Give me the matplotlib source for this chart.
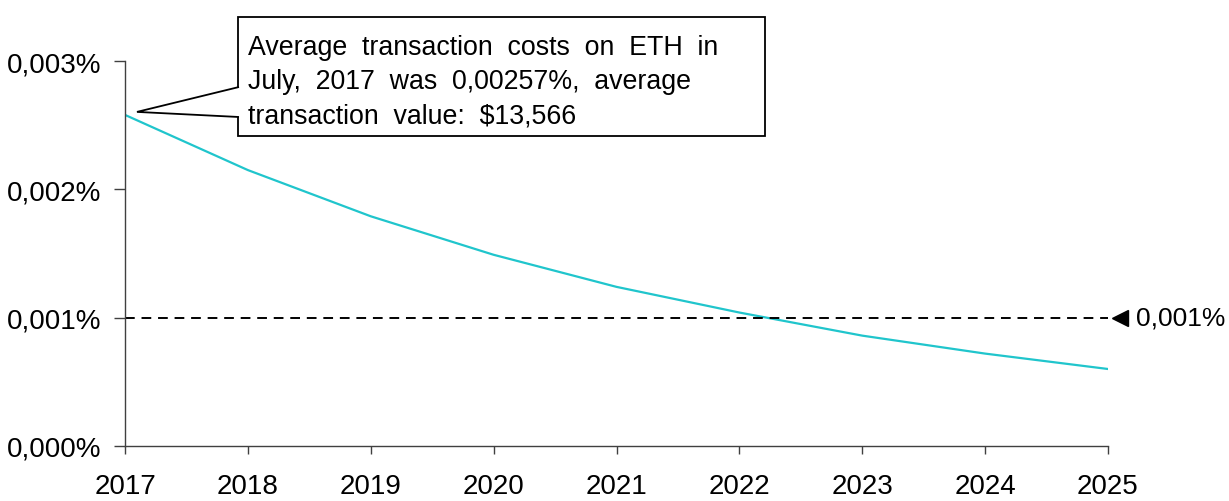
import matplotlib.pyplot as plt
from matplotlib.patches import Rectangle, Polygon

plt.rcParams['font.family'] = ['Liberation Sans', 'DejaVu Sans']

years = [2017, 2018, 2019, 2020, 2021, 2022, 2023, 2024, 2025]
cost_pct = [0.00258, 0.00215, 0.00179, 0.00149, 0.00124, 0.00104, 0.00086, 0.00072, 0.00060]
threshold = 0.001
yticks = [0.0, 0.001, 0.002, 0.003]
ytick_labels = ['0,000%', '0,001%', '0,002%', '0,003%']
note = ('Average  transaction  costs  on  ETH  in\n'
        'July,  2017  was  0,00257%,  average\n'
        'transaction  value:  $13,566')

W, H = 1229, 502
fig = plt.figure(figsize=(W / 100, H / 100), dpi=100)
ax = fig.add_axes([125 / W, 1 - 447 / H, (1108 - 125) / W, (447 - 62) / H])

ax.plot(years, cost_pct, color='#20C5CC', lw=1.6)
ax.axhline(threshold, color='black', lw=1.4, ls=(0, (5, 3.5)))
ax.plot([2025.1], [threshold], marker='<', color='black', ms=11, clip_on=False)
ax.annotate('0,001%', xy=(1, threshold), xycoords=('axes fraction', 'data'),
            xytext=(20, 0), textcoords='offset points', va='center', ha='left',
            fontsize=19)

ax.set_xlim(2017, 2025)
ax.set_ylim(0, 0.003)
ax.set_xticks(years)
ax.set_xticklabels([str(y) for y in years])
ax.set_yticks(yticks)
ax.set_yticklabels(ytick_labels)
for s in ['top', 'right']:
    ax.spines[s].set_visible(False)
for s in ['left', 'bottom']:
    ax.spines[s].set_color('#404040')
    ax.spines[s].set_linewidth(1.0)
ax.tick_params(axis='x', length=6, width=1, color='#404040', pad=13.5, labelsize=20)
ax.tick_params(axis='y', length=8, width=1, color='#404040', pad=9, labelsize=20)

# callout box
bx0, bx1 = 238 / W, 765 / W
by0, by1 = 1 - 137 / H, 1 - 18 / H
fig.patches.append(Rectangle((bx0, by0), bx1 - bx0, by1 - by0, transform=fig.transFigure,
                             fc='white', ec='black', lw=1.3))
tip = ax.transData.transform((years[0], cost_pct[0]))
tip = fig.transFigure.inverted().transform(tip)
tip = (tip[0] + 12 / W, tip[1] + 3 / H)
fig.patches.append(Polygon([(bx0 + 1 / W, 1 - 88 / H), tip, (bx0 + 1 / W, 1 - 118 / H)],
                           closed=False, transform=fig.transFigure, fc='white', ec='black', lw=1.3))
fig.text(248 / W, 1 - 82 / H, note, fontsize=19.3, va='center', ha='left', linespacing=1.42)

fig.savefig('out.png', dpi=100)
